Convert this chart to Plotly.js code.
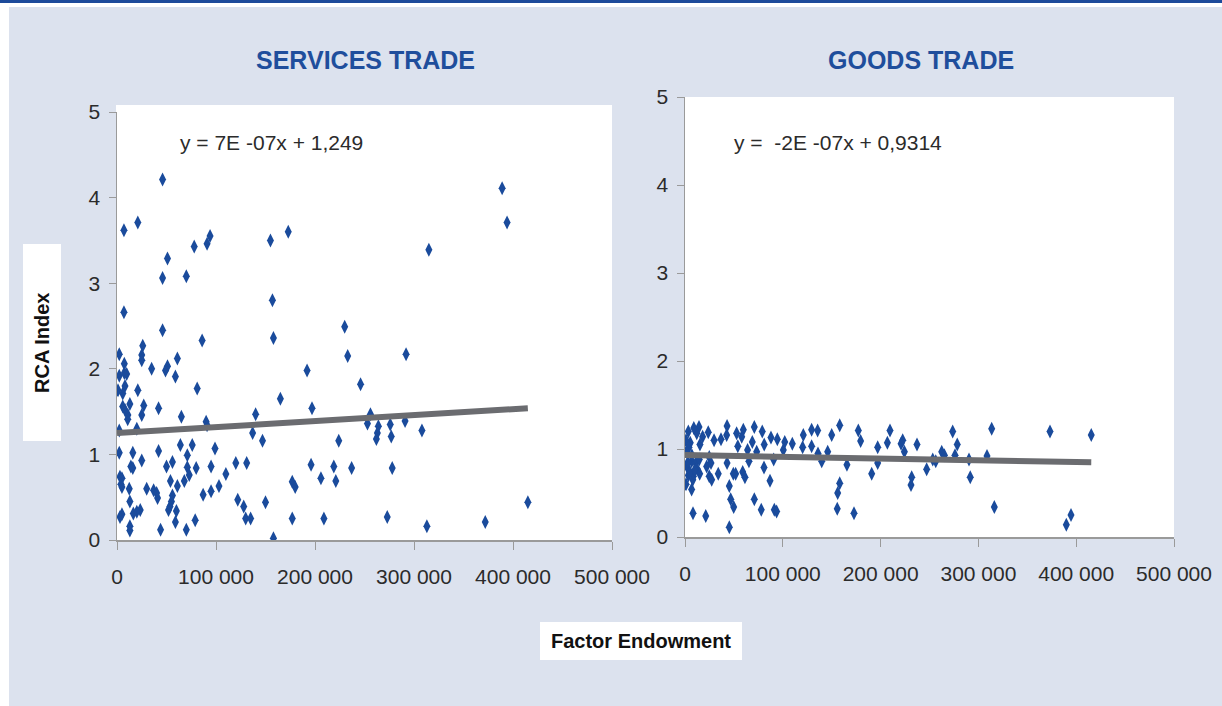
<!DOCTYPE html>
<html>
<head>
<meta charset="utf-8">
<script src="https://cdn.plot.ly/plotly-3.0.1.min.js"></script>
<style>html,body{margin:0;padding:0;background:#fff;}#chart{width:1222px;height:706px;}</style>
</head>
<body>
<div id="chart"></div>
<script>
// ---------- DATA ----------
const servicesX = [46000,7000,21000,78000,91000,94000,51000,46000,70000,155000,173000,157000,7000,230000,
  389000,394000,315000,
  46000,86000,158000,233000,2300,26000,25000,25000,7400,61000,35000,51000,49000,59000,2300,7400,9800,8100,1000,5800,21000,81000,
  192000,165000,197000,5800,8100,13000,27000,11000,10800,25000,42000,65000,140000,90000,91000,2300,20000,137000,147000,224000,
  2300,16000,42000,64000,76000,99000,71000,25000,14000,16000,50000,56000,71000,80000,95000,120000,131000,196000,219000,237000,
  73000,110000,3000,5000,4000,5000,54000,68000,206000,221000,12400,30000,37000,40000,61000,103000,56000,41000,87000,95000,177000,180000,
  13000,55000,122000,128000,150000,53500,52000,23500,20000,16500,5000,3000,60000,130000,135000,177000,209000,59000,79000,
  13000,13000,44000,70000,158000,
  292000,246000,256000,253000,264000,276000,291000,263000,262000,277000,308000,278000,415000,273000,313000,372000];
const servicesY = [4.21,3.62,3.71,3.43,3.46,3.55,3.29,3.06,3.08,3.50,3.60,2.80,2.66,2.49,
  4.11,3.71,3.39,
  2.45,2.33,2.36,2.15,2.17,2.27,2.16,2.10,2.06,2.12,2.00,2.03,1.98,1.91,1.92,1.95,1.94,1.80,1.75,1.71,1.75,1.77,
  1.98,1.65,1.54,1.56,1.52,1.59,1.57,1.46,1.41,1.46,1.54,1.44,1.47,1.38,1.34,1.28,1.30,1.25,1.16,1.16,
  1.02,1.02,1.04,1.11,1.11,1.07,0.99,0.93,0.86,0.84,0.86,0.91,0.85,0.84,0.86,0.90,0.90,0.88,0.86,0.84,
  0.76,0.77,0.74,0.72,0.65,0.62,0.69,0.69,0.72,0.69,0.60,0.60,0.58,0.55,0.63,0.63,0.52,0.49,0.53,0.57,0.68,0.62,
  0.45,0.45,0.47,0.39,0.44,0.39,0.35,0.35,0.33,0.31,0.30,0.27,0.34,0.25,0.25,0.25,0.25,0.21,0.23,
  0.16,0.11,0.12,0.12,0.02,
  2.17,1.82,1.47,1.36,1.33,1.35,1.39,1.25,1.18,1.21,1.28,0.84,0.44,0.27,0.16,0.21];

const goodsX = [3400,14300,12000,23800,43000,42600,36800,29700,52800,59600,58000,70900,79000,87900,94400,102000,109700,121000,
  5400,15300,24800,43000,54000,64000,68800,73300,81000,90700,100500,65400,2000,6800,11000,14600,22200,26600,
  3400,8500,24800,27300,34000,49400,51800,59000,61300,80800,86900,6800,45300,46700,49800,70900,78000,91300,93700,8200,21200,45300,
  1000,4000,7000,3000,12000,15000,8000,1000,18000,9000,1500,5000,10000,
  129500,135600,129500,120300,136000,139800,145900,150000,158200,165600,158200,156100,155700,172800,177200,179600,190900,
  197000,197000,206900,209600,220900,222600,224300,231800,231100,237200,247100,253300,256400,262500,265200,273700,278400,276100,
  290400,291700,308800,313600,316300,373200,394700,389900,415400];
const goodsY = [1.20,1.25,1.18,1.19,1.26,1.16,1.11,1.10,1.18,1.22,1.14,1.25,1.20,1.13,1.11,1.08,1.06,1.16,
  1.07,1.05,0.91,0.84,1.03,0.99,1.08,0.97,1.05,0.88,0.99,0.86,0.80,0.86,0.84,0.88,0.80,0.84,
  0.70,0.69,0.69,0.65,0.72,0.72,0.72,0.74,0.68,0.79,0.64,0.54,0.58,0.43,0.34,0.43,0.31,0.31,0.29,0.27,0.24,0.11,
  1.10,1.02,0.93,0.85,0.78,0.72,0.65,0.60,1.14,1.24,0.97,0.74,0.76,
  1.22,1.21,1.03,1.02,0.95,0.86,0.97,1.16,1.27,0.82,0.61,0.50,0.32,0.27,1.21,1.09,0.72,
  1.02,0.84,1.07,1.21,1.06,1.10,0.97,0.68,0.59,1.05,0.77,0.88,0.86,0.97,0.93,1.20,1.05,0.93,
  0.88,0.68,0.92,1.23,0.34,1.20,0.25,0.14,1.16];

const servicesTrend = {slope: 7e-7, intercept: 1.249, label: "y = 7E -07x + 1,249"};
const goodsTrend = {slope: -2e-7, intercept: 0.9314, label: "y =  -2E -07x + 0,9314"};

const xTickVals = [0,100000,200000,300000,400000,500000];
const xTickText = ["0","100 000","200 000","300 000","400 000","500 000"];
const yTickVals = [0,1,2,3,4,5];
const yTickText = ["0","1","2","3","4","5"];
const panelTitles = ["SERVICES TRADE","GOODS TRADE"];
const yTitle = "RCA Index";
const xTitle = "Factor Endowment";

// ---------- LAYOUT HELPERS ----------
const W = 1222, H = 706;
const fx = p => p / W;
const fy = p => 1 - p / H;

const tickFont = {family: "'Liberation Sans', Arial, sans-serif", size: 21, color: "#2b2b2b"};
const boldFont = {family: "'Liberation Sans', Arial, sans-serif", size: 20, color: "#111", weight: 700};
const markerBlue = "#1a4b9c";
const trendGray = "#6b6c70";

function trendLine(xs, t, xa, ya) {
  const xmax = Math.max(...xs);
  return {x: [0, xmax], y: [t.intercept, t.intercept + t.slope * xmax], mode: "lines", type: "scatter",
    line: {color: trendGray, width: 6}, xaxis: xa, yaxis: ya, hoverinfo: "skip"};
}

const data = [
  {x: servicesX, y: servicesY, mode: "markers", type: "scatter", xaxis: "x", yaxis: "y",
   marker: {symbol: "diamond-tall", size: 10, color: markerBlue}},
  trendLine(servicesX, servicesTrend, "x", "y"),
  {x: goodsX, y: goodsY, mode: "markers", type: "scatter", xaxis: "x2", yaxis: "y2",
   marker: {symbol: "diamond-tall", size: 10, color: markerBlue}},
  trendLine(goodsX, goodsTrend, "x2", "y2")
];

function xAxis(d, anchor) {
  return {domain: d, anchor: anchor, range: [0, 500000], tickvals: xTickVals, ticktext: xTickText,
    showline: true, linecolor: "#9a9a9a", linewidth: 1.5, ticks: "outside", ticklen: 8, tickcolor: "#9a9a9a",
    showgrid: false, zeroline: false, tickfont: tickFont, ticklabelstandoff: 9, fixedrange: true};
}
function yAxis(d, anchor) {
  return {domain: d, anchor: anchor, range: [0, 5], tickvals: yTickVals, ticktext: yTickText,
    showline: true, linecolor: "#9a9a9a", linewidth: 1.5, ticks: "outside", ticklen: 7, tickcolor: "#9a9a9a",
    showgrid: false, zeroline: false, tickfont: tickFont, ticklabelstandoff: 4, fixedrange: true};
}

const layout = {
  width: W, height: H, margin: {l: 0, r: 0, t: 0, b: 0},
  paper_bgcolor: "#ffffff", plot_bgcolor: "rgba(0,0,0,0)", showlegend: false,
  xaxis: xAxis([fx(117), fx(612)], "y"),
  yaxis: yAxis([fy(540), fy(112)], "x"),
  xaxis2: xAxis([fx(685), fx(1174)], "y2"),
  yaxis2: yAxis([fy(537), fy(97)], "x2"),
  shapes: [
    {type: "rect", xref: "paper", yref: "paper", x0: fx(9), x1: 1, y0: 0, y1: fy(7), fillcolor: "#dce2ee", line: {width: 0}, layer: "below"},
    {type: "rect", xref: "paper", yref: "paper", x0: 0, x1: 1, y0: fy(3), y1: 1, fillcolor: "#1c4a9a", line: {width: 0}, layer: "below"},
    {type: "rect", xref: "paper", yref: "paper", x0: fx(116), x1: fx(612), y0: fy(540), y1: fy(105), fillcolor: "#ffffff", line: {width: 0}, layer: "below"},
    {type: "rect", xref: "paper", yref: "paper", x0: fx(684), x1: fx(1174), y0: fy(537), y1: fy(97), fillcolor: "#ffffff", line: {width: 0}, layer: "below"},
    {type: "rect", xref: "paper", yref: "paper", x0: fx(23), x1: fx(61), y0: fy(441), y1: fy(244), fillcolor: "#ffffff", line: {width: 0}, layer: "below"},
    {type: "rect", xref: "paper", yref: "paper", x0: fx(540), x1: fx(742), y0: fy(660), y1: fy(622), fillcolor: "#ffffff", line: {width: 0}, layer: "below"}
  ],
  annotations: [
    {text: panelTitles[0], xref: "paper", yref: "paper", x: fx(365), y: fy(60), showarrow: false, xanchor: "center", yanchor: "middle",
     font: {family: "'Liberation Sans', Arial, sans-serif", size: 25, color: "#1f4e9c", weight: 700}},
    {text: panelTitles[1], xref: "paper", yref: "paper", x: fx(921), y: fy(60), showarrow: false, xanchor: "center", yanchor: "middle",
     font: {family: "'Liberation Sans', Arial, sans-serif", size: 25, color: "#1f4e9c", weight: 700}},
    {text: servicesTrend.label, xref: "paper", yref: "paper", x: fx(178), y: fy(143), showarrow: false, xanchor: "left", yanchor: "middle", font: tickFont},
    {text: goodsTrend.label, xref: "paper", yref: "paper", x: fx(732), y: fy(143), showarrow: false, xanchor: "left", yanchor: "middle", font: tickFont},
    {text: "<b>" + yTitle + "</b>", xref: "paper", yref: "paper", x: fx(42), y: fy(343), showarrow: false, textangle: -90, xanchor: "center", yanchor: "middle", font: boldFont},
    {text: "<b>" + xTitle + "</b>", xref: "paper", yref: "paper", x: fx(641), y: fy(641), showarrow: false, xanchor: "center", yanchor: "middle", font: boldFont}
  ]
};

Plotly.newPlot("chart", data, layout, {displayModeBar: false, staticPlot: true});
</script>
</body>
</html>
